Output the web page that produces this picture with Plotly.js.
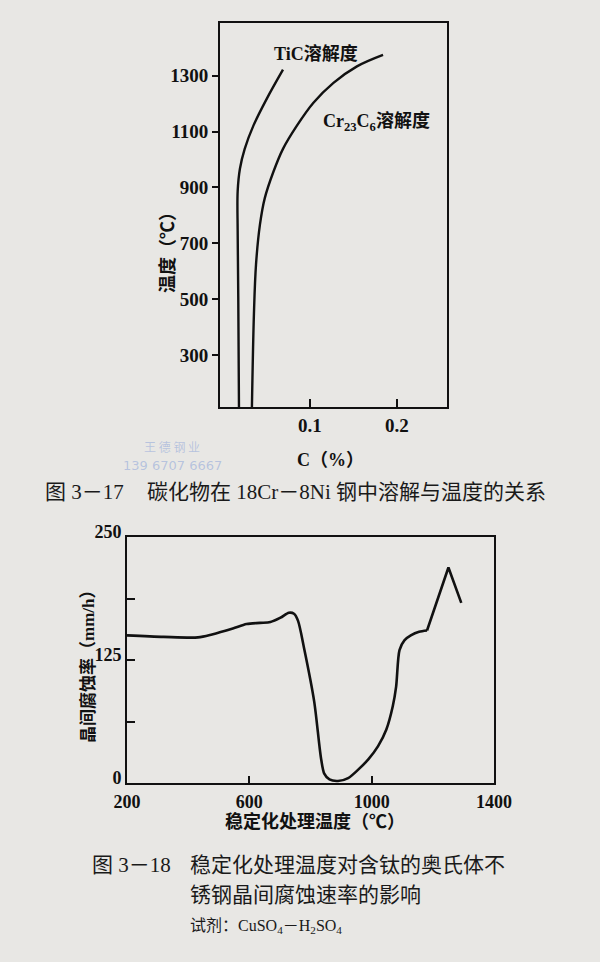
<!DOCTYPE html>
<html>
<head>
<meta charset="utf-8">
<script src="https://cdn.plot.ly/plotly-3.0.1.min.js"></script>
<style>
html,body{margin:0;padding:0;background:#e8e7e4;}
#chart{width:600px;height:962px;}
</style>
</head>
<body>
<div id="chart"></div>
<script>
// ---- Figure 3-17: carbide solubility in 18Cr-8Ni steel ----
const ticCarbon = [0.0184, 0.0176, 0.0169, 0.0169, 0.0195, 0.025, 0.035, 0.050, 0.069];
const ticTemp   = [115, 507, 744, 886, 967, 1038, 1121, 1215, 1321];
const crCarbon  = [0.0333, 0.0356, 0.038, 0.0425, 0.048, 0.058, 0.069, 0.085, 0.104, 0.127, 0.154, 0.184];
const crTemp    = [115, 448, 625, 767, 861, 956, 1038, 1121, 1203, 1274, 1333, 1374];
const fig1TempTicks = [300, 500, 700, 900, 1100, 1300];
const fig1CarbonTicks = [0.1, 0.2];

// ---- Figure 3-18: intergranular corrosion rate vs stabilizing temperature ----
const stabTemp = [200, 320, 432, 478, 546, 591, 635, 669, 702, 729, 746, 759, 779, 812, 834, 845, 862, 890, 923, 956, 989, 1021, 1048, 1069, 1080, 1091, 1107, 1128, 1155, 1181, 1251, 1293];
const corrRate = [150, 148.5, 148, 151, 157, 161.5, 162.7, 163.6, 168, 173, 172, 165, 137, 83, 26, 9.5, 3.6, 2.1, 5, 13.6, 24, 37.5, 54.4, 78, 98, 135, 145, 150, 153.7, 155, 219, 183];
const fig2TempTicks = [200, 600, 1000, 1400];
const fig2RateTicks = [0, 62.5, 125, 187.5, 250];
const fig2RateLabels = ['0', '', '125', '', '250'];

const W = 600, H = 962;
const px = x => x / W;
const py = y => 1 - y / H;

const serifBold = {family: 'Liberation Serif, Noto Sans CJK SC', size: 19, color: '#111', weight: 'bold'};
const cjkBold = {family: 'Liberation Serif, Noto Sans CJK SC', size: 18, color: '#111', weight: 'bold'};
const caption = {family: 'Liberation Serif, Noto Sans CJK SC', size: 21, color: '#1a1a1a'};

const kink = stabTemp.indexOf(1181);

const traces = [
  {x: ticCarbon, y: ticTemp, xaxis: 'x', yaxis: 'y', mode: 'lines',
   line: {color: '#111', width: 2.4, shape: 'spline', smoothing: 1}, hoverinfo: 'skip'},
  {x: crCarbon, y: crTemp, xaxis: 'x', yaxis: 'y', mode: 'lines',
   line: {color: '#111', width: 2.4, shape: 'spline', smoothing: 1}, hoverinfo: 'skip'},
  {x: stabTemp.slice(0, kink + 1), y: corrRate.slice(0, kink + 1), xaxis: 'x2', yaxis: 'y2', mode: 'lines',
   line: {color: '#111', width: 2.6, shape: 'spline', smoothing: 0.8}, hoverinfo: 'skip'},
  {x: stabTemp.slice(kink), y: corrRate.slice(kink), xaxis: 'x2', yaxis: 'y2', mode: 'lines',
   line: {color: '#111', width: 2.6, shape: 'linear'}, hoverinfo: 'skip'}
];

const axBase = {showline: true, linecolor: '#111', linewidth: 2, mirror: true,
  showgrid: false, zeroline: false, ticks: 'outside', tickcolor: '#111', tickwidth: 2};

function note(x, y, text, font, extra) {
  return Object.assign({xref: 'paper', yref: 'paper', x: px(x), y: py(y), text: text,
    showarrow: false, xanchor: 'center', yanchor: 'middle', font: font}, extra || {});
}

const layout = {
  width: W, height: H,
  margin: {l: 0, r: 0, t: 0, b: 0},
  paper_bgcolor: '#e8e7e4', plot_bgcolor: '#e8e7e4',
  showlegend: false,
  xaxis: Object.assign({}, axBase, {
    domain: [px(220), px(447)], range: [-0.0034, 0.2575], anchor: 'y',
    tickvals: fig1CarbonTicks, ticktext: fig1CarbonTicks.map(String),
    ticks: 'inside', ticklen: 8, tickfont: serifBold
  }),
  yaxis: Object.assign({}, axBase, {
    domain: [py(407), py(23)], range: [115, 1488], anchor: 'x',
    tickvals: fig1TempTicks, ticktext: fig1TempTicks.map(String),
    ticks: 'outside', ticklen: 6, tickfont: serifBold
  }),
  xaxis2: Object.assign({}, axBase, {
    domain: [px(127), px(494)], range: [200, 1400], anchor: 'y2',
    tickvals: fig2TempTicks, ticktext: fig2TempTicks.map(String),
    ticks: 'inside', ticklen: 7, ticklabelstandoff: 1,
    tickfont: Object.assign({}, serifBold, {size: 18})
  }),
  yaxis2: Object.assign({}, axBase, {
    domain: [py(783), py(537)], range: [0, 250], anchor: 'x2',
    tickvals: fig2RateTicks, ticktext: fig2RateLabels,
    ticks: 'inside', ticklen: 8, ticklabelshift: -5,
    tickfont: Object.assign({}, serifBold, {size: 18})
  }),
  annotations: [
    // Figure 3-17 curve labels
    {xref: 'x', yref: 'y', x: 0.107, y: 1378, text: 'TiC溶解度', showarrow: false,
     xanchor: 'center', yanchor: 'middle', font: cjkBold},
    {xref: 'x', yref: 'y', x: 0.176, y: 1134, text: 'Cr<sub>23</sub>C<sub>6</sub>溶解度', showarrow: false,
     xanchor: 'center', yanchor: 'middle', font: cjkBold},
    // Figure 3-17 axis titles
    note(168, 248, '温度（℃）', cjkBold, {textangle: -90}),
    note(330, 460, 'C（%）', cjkBold),
    // watermark
    note(172, 446, '王 德 钢 业', {family: 'Noto Sans CJK SC', size: 12, color: 'rgba(120,150,215,0.45)'}),
    note(172, 465, '139 6707 6667', {family: 'DejaVu Sans', size: 13, color: 'rgba(120,150,215,0.45)'}),
    // Figure 3-17 caption
    note(43, 492, '图 3－17', caption, {xanchor: 'left'}),
    note(145, 492, '碳化物在 18Cr－8Ni 钢中溶解与温度的关系', caption, {xanchor: 'left'}),
    // Figure 3-18 axis titles
    note(88, 662, '晶间腐蚀率（mm/h）', Object.assign({}, cjkBold, {size: 17}), {textangle: -90}),
    note(315, 821, '稳定化处理温度（℃）', cjkBold),
    // Figure 3-18 caption
    note(90, 865, '图 3－18', caption, {xanchor: 'left'}),
    note(188, 865, '稳定化处理温度对含钛的奥氏体不', caption, {xanchor: 'left'}),
    note(188, 895, '锈钢晶间腐蚀速率的影响', caption, {xanchor: 'left'}),
    note(188, 926, '试剂：CuSO<sub>4</sub>－H<sub>2</sub>SO<sub>4</sub>', Object.assign({}, caption, {size: 16}), {xanchor: 'left'})
  ]
};

Plotly.newPlot('chart', traces, layout, {staticPlot: true, displayModeBar: false});
</script>
</body>
</html>
